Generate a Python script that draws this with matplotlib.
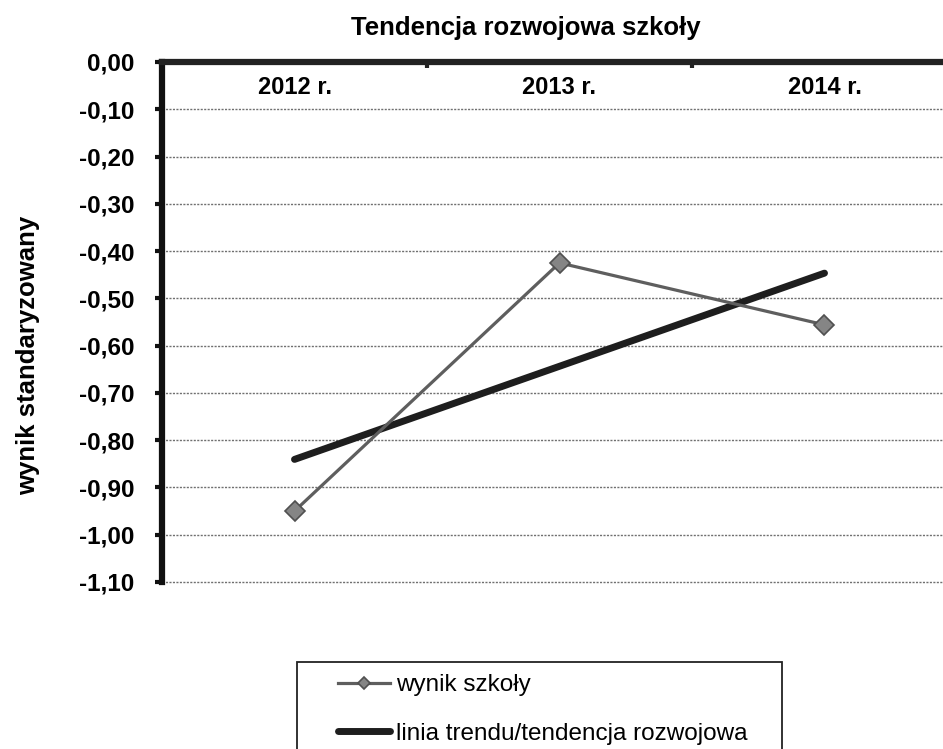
import numpy as np
from matplotlib import pyplot as plt
from matplotlib.patches import Rectangle

years = ['2012 r.', '2013 r.', '2014 r.']
school_score = [-0.95, -0.425, -0.556]
y_ticks = [0.0, -0.1, -0.2, -0.3, -0.4, -0.5, -0.6, -0.7, -0.8, -0.9, -1.0, -1.1]

plt.rcParams['font.family'] = ['Liberation Sans', 'DejaVu Sans']

W, H = 943, 749
fig = plt.figure(figsize=(W / 100, H / 100), dpi=100)
ax = fig.add_axes([162 / W, 1 - 582 / H, (957 - 162) / W, 520 / H])

x = np.arange(len(years))

# linear trend of school results
coef = np.polyfit(x, school_score, 1)
trend = np.polyval(coef, x)

ax.plot(x, school_score, color='#5e5e5e', lw=2.3, marker='D', markersize=10,
        markerfacecolor='#858585', markeredgecolor='#505050', markeredgewidth=1.2,
        label='wynik szkoły', zorder=4)
ax.plot(x, trend, color='#1e1e1e', lw=5, solid_capstyle='round',
        label='linia trendu/tendencja rozwojowa', zorder=3)

ax.set_xlim(-0.5, 2.5)
ax.set_ylim(-1.1, 0)
ax.set_yticks(y_ticks)
ax.set_yticklabels([f'{v:.2f}'.replace('.', ',') for v in y_ticks],
                   fontsize=17.5, fontweight='bold')
ax.grid(axis='y', color='#707070', lw=1.0, ls=(0, (1.5, 1)))
for gl in ax.get_ygridlines():
    gl.set_clip_on(False)
ax.set_axisbelow(True)

# category labels inside, right under the top spine
ax.set_xticks(x)
ax.set_xticklabels(years, fontsize=17, fontweight='bold')
ax.tick_params(axis='x', which='major', top=True, labeltop=True, bottom=False,
               labelbottom=False, length=0, pad=-27)
ax.set_xticks([-0.5, 0.5, 1.5, 2.5], minor=True)
ax.tick_params(axis='x', which='minor', top=True, bottom=False, direction='in',
               length=4, width=3, color='#222222')
ax.tick_params(axis='y', length=5, width=3, color='#111111', pad=15)

ax.spines['top'].set_linewidth(4.5)
ax.spines['top'].set_color('#222222')
ax.spines['left'].set_linewidth(4.5)
ax.spines['left'].set_color('#111111')
ax.spines['right'].set_visible(False)
ax.spines['bottom'].set_visible(False)

fig.text(526 / W, 1 - 35 / H, 'Tendencja rozwojowa szkoły', ha='center',
         va='baseline', fontsize=18.5, fontweight='bold')
fig.text(28 / W, 1 - 355 / H, 'wynik standaryzowany', rotation=90, ha='center',
         va='center', fontsize=18.5, fontweight='bold')

# legend box
fig.patches.append(Rectangle((297 / W, 1 - 800 / H), (782 - 297) / W, 138 / H,
                             transform=fig.transFigure, fill=False,
                             edgecolor='#222222', lw=1.3))
fig.legend(loc='upper left', bbox_to_anchor=(338 / W, 1 - 674 / H),
           frameon=False, fontsize=17.5, handlelength=2.15, handletextpad=0.25,
           labelspacing=1.1, borderpad=0, borderaxespad=0, markerscale=0.65)

fig.savefig('out.png', dpi=100)
